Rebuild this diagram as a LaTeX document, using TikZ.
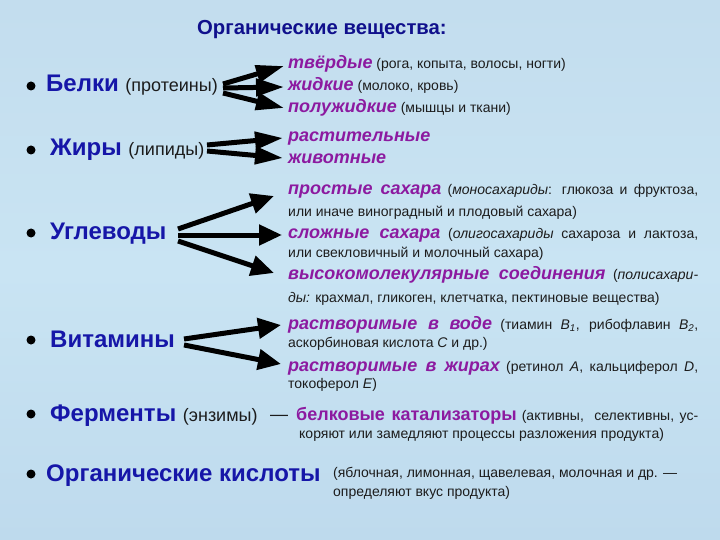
\documentclass[tikz,border=0pt]{standalone}
\usepackage{fontspec}
\setmainfont{Liberation Sans}
\usetikzlibrary{arrows.meta}
\definecolor{bgtop}{RGB}{195,221,238}
\definecolor{bgmid}{RGB}{201,228,243}
\definecolor{bgbot}{RGB}{190,218,237}
\definecolor{ttl}{RGB}{16,16,140}
\definecolor{hd}{RGB}{22,22,168}
\definecolor{pur}{RGB}{140,26,160}
\definecolor{txt}{RGB}{28,28,28}
\newcommand{\pu}[1]{{\color{pur}\bfseries\itshape\fontsize{18}{20}\selectfont #1}}
\newcommand{\pb}[1]{{\color{pur}\bfseries\fontsize{18}{20}\selectfont #1}}
\newcommand{\sm}[1]{{\color{txt}\fontsize{18}{20}\selectfont\mdseries #1}}
\newcommand{\vit}[1]{{\itshape #1}}
\tikzset{
  hdn/.style={anchor=base west, inner sep=0pt, text=hd, font=\fontsize{24}{26}\selectfont\bfseries},
  subn/.style={anchor=base west, inner sep=0pt, text=txt, font=\fontsize{14}{16}\selectfont},
  dotn/.style={circle, fill=black, inner sep=0pt, minimum size=9pt},
  arrb/.style={line width=5pt, -{Triangle[length=28pt,width=17pt]}},
  arru/.style={line width=5pt, -{Triangle[length=23pt,width=20pt]}}
}
\begin{document}
\begin{tikzpicture}[x=1pt,y=-1pt]
\useasboundingbox (0,0) rectangle (720,540);
\shade[top color=bgtop, bottom color=bgbot, middle color=bgmid] (0,0) rectangle (720,540);

% title
\node[anchor=base west, inner sep=0pt, text=ttl, font=\fontsize{20.3}{22}\selectfont\bfseries] (title) at (197,35) {Органические вещества:};

% headings
\node[dotn] (d1) at (31,86) {};
\node[hdn] (belki) at (46,92) {Белки \sm{(протеины)}};
\node[dotn] (d2) at (31,150) {};
\node[hdn] (zhiry) at (50,156) {Жиры \sm{(липиды)}};
\node[dotn] (d3) at (31,233) {};
\node[hdn] (ugl) at (50,240) {Углеводы};
\node[dotn] (d4) at (31,340) {};
\node[hdn] (vit) at (50,347) {Витамины};
\node[dotn] (d5) at (31,414) {};
\node[hdn] (ferm) at (50,421) {Ферменты \sm{(энзимы)}};
\node[dotn] (d6) at (31,474) {};
\node[hdn] (orgk) at (46,481) {Органические кислоты};

% proteins
\node[subn] (p1) at (288,69) {\pu{твёрдые} (рога, копыта, волосы, ногти)};
\node[subn] (p2) at (288,91) {\pu{жидкие} (молоко, кровь)};
\node[subn] (p3) at (288,113) {\pu{полужидкие} (мышцы и ткани)};
% fats
\node[subn] (f1) at (288,142) {\pu{растительные}};
\node[subn] (f2) at (288,164) {\pu{животные}};
% carbohydrates
\node[subn] (c1) at (288,195) {\makebox[410pt][s]{\pu{простые сахара} (\vit{моносахариды}: глюкоза и фруктоза,}};
\node[subn] (c1b) at (288,217) {или иначе виноградный и плодовый сахара)};
\node[subn] (c2) at (288,238) {\makebox[410pt][s]{\pu{сложные сахара} (\vit{олигосахариды} сахароза и лактоза,}};
\node[subn] (c2b) at (288,257) {или свекловичный и молочный сахара)};
\node[subn] (c3) at (288,279) {\makebox[410pt][s]{\pu{высокомолекулярные соединения} (\vit{полисахари-}}};
\node[subn] (c3b) at (288,302) {\vit{ды:} крахмал, гликоген, клетчатка, пектиновые вещества)};
% vitamins
\node[subn] (v1) at (288,329) {\makebox[410pt][s]{\pu{растворимые в воде} (тиамин \vit{B}\textsubscript{\vit{1}}, рибофлавин \vit{B}\textsubscript{\vit{2}},}};
\node[subn] (v1b) at (288,347) {аскорбиновая кислота \vit{C} и др.)};
\node[subn] (v2) at (288,371) {\makebox[410pt][s]{\pu{растворимые в жирах} (ретинол \vit{A}, кальциферол \vit{D},}};
\node[subn] (v2b) at (288,388) {токоферол \vit{E})};
% enzymes
\node[subn, font=\fontsize{18}{20}\selectfont] (dash) at (270,420) {—};
\node[subn] (e1) at (296,420) {\makebox[402pt][s]{\pb{белковые катализаторы} (активны,\ \ селективны, ус-}};
\node[subn] (e1b) at (299,438) {коряют или замедляют процессы разложения продукта)};
% acids
\node[subn] (a1) at (333,477) {(яблочная, лимонная, щавелевая, молочная и др. —};
\node[subn] (a1b) at (333,496) {определяют вкус продукта)};

% arrow end points
\coordinate (sb1) at (223,84); \coordinate (sb2) at (223,88); \coordinate (sb3) at (223,93);
\coordinate (tb1) at (284,66); \coordinate (tb2) at (284,87); \coordinate (tb3) at (284,108);
\coordinate (sz1) at (207,145); \coordinate (sz2) at (207,151);
\coordinate (tz1) at (283,138); \coordinate (tz2) at (283,158);
\coordinate (su1) at (178,229); \coordinate (su2) at (178,235); \coordinate (su3) at (178,241);
\coordinate (tu1) at (274,196); \coordinate (tu2) at (282,235); \coordinate (tu3) at (274,273);
\coordinate (sv1) at (184,339); \coordinate (sv2) at (184,345);
\coordinate (tv1) at (281,325); \coordinate (tv2) at (281,364);

\draw[arrb] (sb1) -- (tb1);
\draw[arrb] (sb2) -- (tb2);
\draw[arrb] (sb3) -- (tb3);
\draw[arrb] (sz1) -- (tz1);
\draw[arrb] (sz2) -- (tz2);
\draw[arru] (su1) -- (tu1);
\draw[arru] (su2) -- (tu2);
\draw[arru] (su3) -- (tu3);
\draw[arru] (sv1) -- (tv1);
\draw[arru] (sv2) -- (tv2);
\end{tikzpicture}
\end{document}
